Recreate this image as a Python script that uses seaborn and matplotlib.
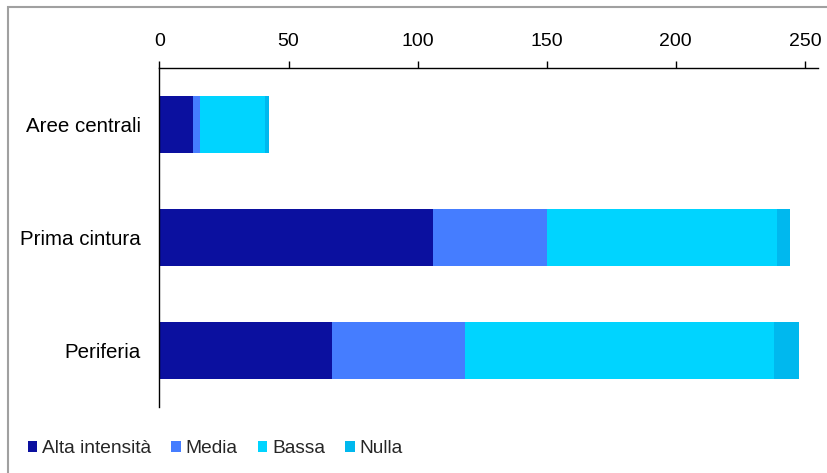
import matplotlib

matplotlib.use("Agg")

import matplotlib.pyplot as plt
import numpy as np
import pandas as pd
import seaborn as sns
from matplotlib.patches import Patch, Rectangle

categories = ["Aree centrali", "Prima cintura", "Periferia"]
series = ["Alta intensità", "Media", "Bassa", "Nulla"]
alta = [13, 106, 67]
media = [2.7, 44.3, 51.2]
bassa = [25, 88.8, 119.9]
nulla = [1.8, 5.2, 9.6]
colors = ["#0B109F", "#457DFF", "#00D4FF", "#00B8EE"]
x_ticks = [0, 50, 100, 150, 200, 250]

sns.set_theme(style="white")
plt.rcParams["font.family"] = ["Liberation Sans", "DejaVu Sans"]

df = pd.DataFrame({"cat": categories, "Alta intensità": alta, "Media": media,
                   "Bassa": bassa, "Nulla": nulla})
cum = df[series].cumsum(axis=1)

fig = plt.figure(figsize=(8.28, 4.73), dpi=100)
ax = fig.add_axes([0.1926, 0.1395, 0.7950, 0.7167])

# stacked bars: draw cumulative totals from the largest down
for name, col in reversed(list(zip(series, colors))):
    sns.barplot(x=cum[name], y=df["cat"], color=col, orient="h", width=0.5,
                saturation=1, linewidth=0, ax=ax)

ax.set_xlim(0, 255)
ax.set_ylim(2.5, -0.5)
ax.set_xticks(x_ticks)
ax.xaxis.tick_top()
ax.tick_params(axis="x", which="major", direction="out", length=5, width=1,
               labelsize=14, pad=8, colors="black")
ax.set_yticks(range(len(categories)))
ax.set_yticklabels(categories)
ax.set_yticks(np.arange(-0.5, 3.0, 1.0), minor=True)
ax.tick_params(axis="y", which="major", length=0, labelsize=14.8, pad=13.5)
ax.tick_params(axis="y", which="minor", direction="out", length=7, width=1, color="black")
ax.set_xlabel("")
ax.set_ylabel("")
for s in ["right", "bottom"]:
    ax.spines[s].set_visible(False)
for s in ["top", "left"]:
    ax.spines[s].set_color("black")
    ax.spines[s].set_linewidth(1)
for lbl in ax.get_xticklabels() + ax.get_yticklabels():
    lbl.set_color("black")

handles = [Patch(facecolor=c, edgecolor="none", label=n) for n, c in zip(series, colors)]
fig.legend(handles=handles, loc="center left", bbox_to_anchor=(0.024, 0.051), ncol=4,
           frameon=False, fontsize=13.8, handlelength=0.5, handleheight=0.5,
           handletextpad=0.25, columnspacing=1.05, borderaxespad=0)

fig.patches.append(Rectangle((8 / 828, -0.1), 1.2, 1.1 - 7 / 473, transform=fig.transFigure,
                             fill=False, edgecolor="#A0A0A0", linewidth=1.5))

fig.savefig("out.png", dpi=100)
plt.close(fig)
